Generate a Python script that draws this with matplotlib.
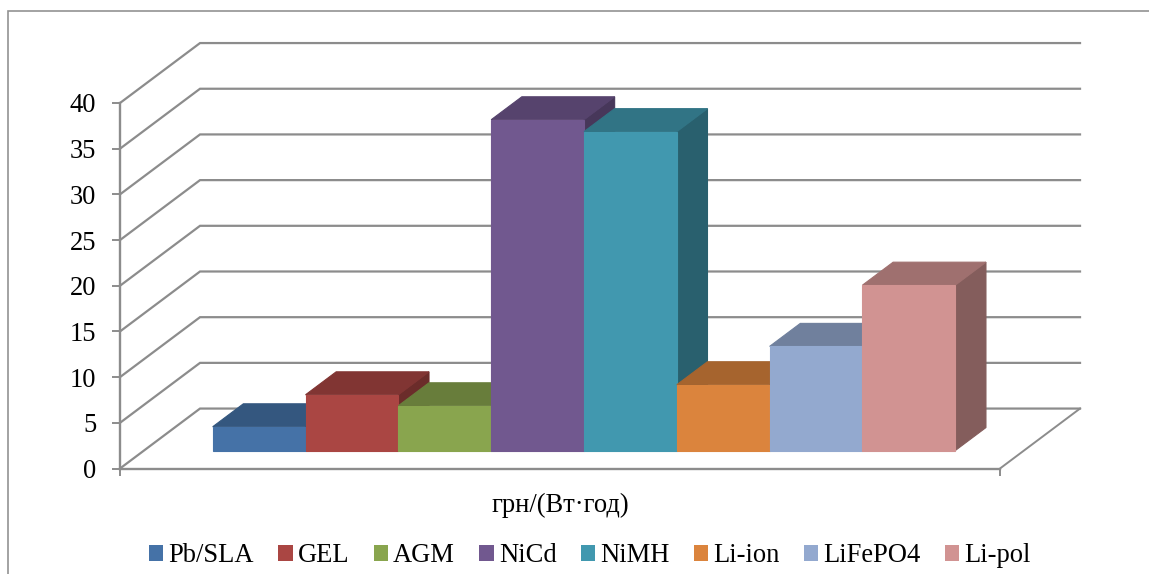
import matplotlib
matplotlib.use("Agg")
import matplotlib.pyplot as plt
from matplotlib.lines import Line2D
from matplotlib.patches import Patch, Polygon
from matplotlib.colors import to_rgb

# Values
series = ["Pb/SLA", "GEL", "AGM", "NiCd", "NiMH", "Li-ion", "LiFePO4", "Li-pol"]
values = [2.6, 6.1, 4.9, 36.2, 34.9, 7.2, 11.4, 18.1]
colors = ["#4572A7", "#AA4643", "#89A54E", "#71588F", "#4198AF", "#DB843D", "#93A9CF", "#D19392"]
y_ticks = [0, 5, 10, 15, 20, 25, 30, 35, 40]
x_label = "грн/(Вт·год)"

W, H = 1149, 574
GRID = "#8C8C8C"
FONT_SIZE = 19.1

# Fake 3D: depth 0 is the front plane of the axes, depth 1 the back wall
GAP = 0.74
X_MAX = len(series) + 2 * GAP
DEPTH_X = 0.862  # back wall shift in bar widths
DEPTH_Y = 6.56  # back wall shift in value units
BAR_FRONT = 0.30
BAR_BACK = 0.683


def project(x, y, depth):
    return x + depth * DEPTH_X, y + depth * DEPTH_Y


def shade(color, factor):
    return tuple(c * factor for c in to_rgb(color))


def add_face(ax, points, color, z):
    # same colour edge closes the hairline gaps between faces
    ax.add_patch(Polygon(points, closed=True, facecolor=color, edgecolor=color, linewidth=0.8,
                         clip_on=False, zorder=z))


plt.rcParams["font.family"] = ["Liberation Serif", "DejaVu Serif"]
plt.rcParams["font.size"] = FONT_SIZE

fig = plt.figure(figsize=(W / 100, H / 100), dpi=100)
ax = fig.add_axes([120 / W, 1 - 468.5 / H, 880 / W, 365.5 / H])
ax.set_xlim(0, X_MAX)
ax.set_ylim(0, 40)
ax.patch.set_alpha(0)

# chart frame, only its left and top edges fall inside the crop
frame_x, frame_y = 7.5 / W, 1 - 10.5 / H
fig.add_artist(Line2D([frame_x, frame_x, 1], [0, frame_y, frame_y], transform=fig.transFigure,
                      color="#929292", lw=1.2, solid_joinstyle="miter"))

# walls and floor
for tick in y_ticks:
    ax.plot(*zip(project(0, tick, 0), project(0, tick, 1), project(X_MAX, tick, 1)),
            color=GRID, lw=1.6, clip_on=False, zorder=1, solid_joinstyle="miter")
ax.plot(*zip(project(X_MAX, 0, 0), project(X_MAX, 0, 1)), color=GRID, lw=1.4, clip_on=False, zorder=1)

# bars, painted left to right so each one covers the side of the previous
for i, (value, color) in enumerate(zip(values, colors)):
    left, right = GAP + i, GAP + i + 1
    front = [project(left, 0, BAR_FRONT), project(right, 0, BAR_FRONT),
             project(right, value, BAR_FRONT), project(left, value, BAR_FRONT)]
    top = [project(left, value, BAR_FRONT), project(right, value, BAR_FRONT),
           project(right, value, BAR_BACK), project(left, value, BAR_BACK)]
    side = [project(right, 0, BAR_FRONT), project(right, 0, BAR_BACK),
            project(right, value, BAR_BACK), project(right, value, BAR_FRONT)]
    z = 2 + i
    add_face(ax, side, shade(color, 0.63), z)
    add_face(ax, top, shade(color, 0.76), z)
    add_face(ax, front, color, z)

for name in ["top", "right"]:
    ax.spines[name].set_visible(False)
for name in ["left", "bottom"]:
    ax.spines[name].set_color(GRID)
    ax.spines[name].set_linewidth(1.7)
    ax.spines[name].set_zorder(1.5)

ax.set_yticks(y_ticks)
ax.set_xticks([0, X_MAX])
ax.set_xticklabels([])
ax.tick_params(axis="y", length=6, width=1.4, color=GRID, pad=11, labelcolor="black")
ax.tick_params(axis="x", length=5, width=1.4, color=GRID)
ax.set_xlabel(x_label, fontsize=FONT_SIZE, labelpad=9)

handles = [Patch(facecolor=c, edgecolor="none") for c in colors]
fig.legend(handles, series, loc="lower center", bbox_to_anchor=(590 / W, -10 / H), ncol=len(series), frameon=False,
           handlelength=0.54, handleheight=0.54, handletextpad=0.2, columnspacing=0.91, borderpad=0.1,
           fontsize=FONT_SIZE, labelspacing=0)

fig.savefig("out.png", dpi=100)
